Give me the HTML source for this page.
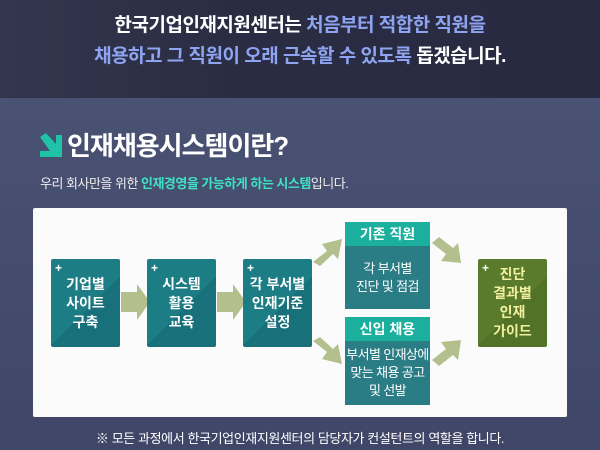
<!DOCTYPE html>
<html><head><meta charset="utf-8"><style>
body{margin:0;width:600px;height:450px;overflow:hidden;font-family:"Liberation Sans","Noto Sans CJK KR",sans-serif;background:#434a6a;position:relative}
.top{position:absolute;left:0;top:0;width:600px;height:98px;background:linear-gradient(90deg,#34364f,#2a2c43 40%,#272a40);}
.t{position:absolute;width:600px;text-align:center;font-weight:bold;font-size:19px;color:#fff;letter-spacing:-0.5px}
.b{color:#8ea4f0}
.low{position:absolute;left:0;top:98px;width:600px;height:352px;background:linear-gradient(180deg,#4a5274,#3f4667)}
.panel{position:absolute;left:33px;top:208px;width:534px;height:209px;background:#fbfbfb;border-radius:2px}
.box{position:absolute;background:linear-gradient(135deg,#1d7d85 55%,#17707a 55%);color:#fff;font-weight:bold;font-size:14px;text-align:center;display:flex;align-items:center;justify-content:center;line-height:19px;border-radius:2px}
.plus{position:absolute;left:4px;top:0px;font-size:12px;color:#fff}
.h{position:absolute;left:0;top:0;width:100%;height:24px;background:#1bb09d;line-height:24px;font-size:14px}
.body2{position:absolute;left:0;top:24px;right:0;bottom:0;display:flex;align-items:center;justify-content:center;font-weight:normal;font-size:13px;line-height:18px;background:#2a7c85;white-space:nowrap;letter-spacing:-0.6px}
</style></head><body>
<div class="top"></div>
<div class="t" style="top:10px">한국기업인재지원센터는 <span class="b">처음부터 적합한 직원을</span></div>
<div class="t" style="top:41px"><span class="b">채용하고 그 직원이 오래 근속할 수 있도록</span> 돕겠습니다.</div>
<div class="low"></div>
<svg style="position:absolute;left:40px;top:133px" width="22" height="27"><polygon points="0,4 6,0 16,11 16,2 22,2 22,24 0,24 0,18 10,18" fill="#1fc3a6"/></svg>
<div style="position:absolute;left:67px;top:126px;font-size:26px;font-weight:bold;color:#fff;letter-spacing:-1px">인재채용시스템이란?</div>
<div style="position:absolute;left:40px;top:173px;font-size:13px;color:#eee;letter-spacing:-0.5px">우리 회사만을 위한 <b style="color:#3fe0c4">인재경영을 가능하게 하는 시스템</b>입니다.</div>
<div class="panel"></div>
<svg style="position:absolute;left:0;top:0" width="600" height="450">
<g fill="#b3bf8c">
<polygon points="121,292 137,292 137,284 150,302 137,320 137,312 121,312"/>
<polygon points="217,292 233,292 233,284 246,302 233,320 233,312 217,312"/>
<polygon points="313,262 327,251 322,244 342,239 338,259 333,254 320,266"/>
<polygon points="313,341 327,352 322,359 342,364 338,344 333,349 320,337"/>
<polygon points="432,243 446,254 441,261 461,263 458,243 453,248 439,237"/>
<polygon points="432,360 446,349 441,342 461,340 458,360 453,355 439,366"/>
</g></svg>
<div class="box" style="left:51px;top:259px;width:69px;height:88px"><span class="plus">+</span>기업별<br>사이트<br>구축</div>
<div class="box" style="left:147px;top:259px;width:69px;height:88px"><span class="plus">+</span>시스템<br>활용<br>교육</div>
<div class="box" style="left:243px;top:259px;width:69px;height:88px"><span class="plus">+</span>각 부서별<br>인재기준<br>설정</div>
<div class="box" style="left:345px;top:222px;width:85px;height:87px"><div class="h">기존 직원</div><div class="body2">각 부서별<br>진단 및 점검</div></div>
<div class="box" style="left:345px;top:317px;width:85px;height:88px"><div class="h">신입 채용</div><div class="body2">부서별 인재상에<br>맞는 채용 공고<br>및 선발</div></div>
<div class="box" style="left:478px;top:259px;width:69px;height:88px;background:linear-gradient(135deg,#5b7b2c 55%,#527228 55%);color:#f3f0a0"><span class="plus" style="color:#fff">+</span>진단<br>결과별<br>인재<br>가이드</div>
<div style="position:absolute;left:0;width:600px;top:428px;text-align:center;font-size:13px;color:#fff;letter-spacing:-0.4px">※ 모든 과정에서 한국기업인재지원센터의 담당자가 컨설턴트의 역할을 합니다.</div>
</body></html>
